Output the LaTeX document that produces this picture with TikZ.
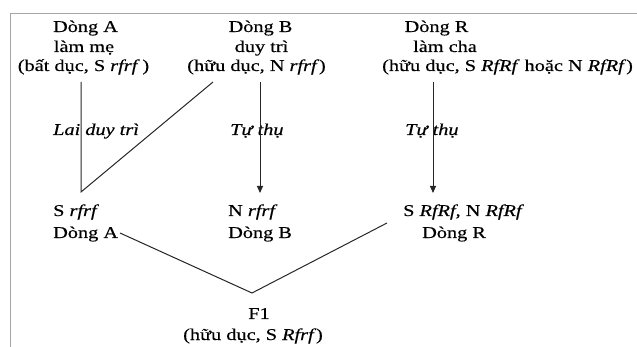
\documentclass[tikz,border=0pt]{standalone}
\usepackage{fontspec}
\setmainfont[FakeStretch=1.23,FakeBold=0.4]{Liberation Serif}
\usetikzlibrary{arrows.meta}
\begin{document}
\begin{tikzpicture}[x=1pt,y=-1pt,
  txt/.style={inner sep=0pt, anchor=base, font=\fontsize{16.5}{19.5}\selectfont, text=black},
  txtw/.style={txt, anchor=base west},
  link/.style={line width=1pt, draw=black!85},
  arr/.style={link, -{Triangle[length=7pt,width=6pt]}},
  frame/.style={draw=black!35, line width=1.6pt}]
\useasboundingbox (0,0) rectangle (637,347);
\draw[frame] (10.5,347) -- (10.5,13.5) -- (637,13.5);

% top row
\node[txt] (a1) at (85.5,32) {Dòng A};
\node[txt] (a2) at (84,52) {làm mẹ};
\node[txt] (a3) at (83.5,71) {(bất dục, S \textit{rfrf}\,)};
\node[txt] (b1) at (260.5,32) {Dòng B};
\node[txt] (b2) at (261.5,52) {duy trì};
\node[txt] (b3) at (256.5,71) {(hữu dục, N \textit{rfrf})};
\node[txt] (r1) at (436.5,32) {Dòng R};
\node[txt] (r2) at (445,52) {làm cha};
\node[txtw] (r3) at (382,71) {(hữu dục, S \textit{RfRf} hoặc N \textit{RfRf})};

% labels
\node[txtw] (l1) at (53,135) {\textit{Lai duy trì}};
\node[txtw] (l2) at (230,135) {\textit{Tự thụ}};
\node[txtw] (l3) at (405,135) {\textit{Tự thụ}};

% middle row
\node[txtw] (sa) at (53,216) {S \textit{rfrf}};
\node[txtw] (da) at (53,238) {Dòng A};
\node[txtw] (nb) at (228,216) {N \textit{rfrf}};
\node[txtw] (db) at (228,238) {Dòng B};
\node[txtw] (sr) at (403,216) {S \textit{RfRf}, N \textit{RfRf}};
\node[txtw] (dr) at (422,238) {Dòng R};

% bottom
\node[txt] (f1) at (259,319) {F1};
\node[txt] (f1b) at (253,340) {(hữu dục, S \textit{Rfrf})};

% connector coordinates
\coordinate (at) at (81,82);
\coordinate (aj) at (81,192);
\coordinate (bd) at (213,82);
\coordinate (bt) at (260,82);
\coordinate (bb) at (260,193);
\coordinate (rt) at (433,82);
\coordinate (rb) at (433,193);
\coordinate (vl) at (120,233);
\coordinate (vm) at (252,293);
\coordinate (vr) at (387,223);

\draw[link] (at) -- (aj) -- (bd);
\draw[arr] (bt) -- (bb);
\draw[arr] (rt) -- (rb);
\draw[link] (vl) -- (vm) -- (vr);
\end{tikzpicture}
\end{document}
